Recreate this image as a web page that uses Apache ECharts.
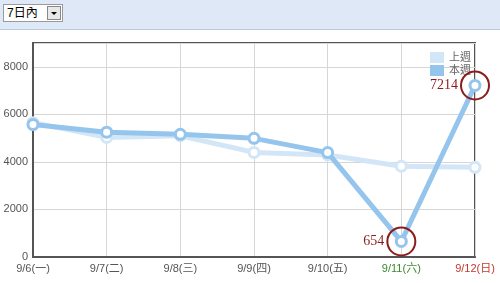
<!DOCTYPE html>
<html><head><meta charset="utf-8">
<script src="https://cdn.jsdelivr.net/npm/echarts@6/dist/echarts.min.js"></script>
<style>
html,body{margin:0;padding:0;background:#fff;}
#wrap{position:relative;width:500px;height:283px;overflow:hidden;}
#band{position:absolute;left:0;top:0;width:500px;height:29px;background:#dfe8f6;border-bottom:1px solid #b9c9dd;}
#sel{position:absolute;left:3px;top:4px;width:58px;height:16px;background:#fff;border:1px solid #9a9a9a;font:12px "Liberation Sans","Noto Sans CJK TC",sans-serif;color:#000;line-height:16px;}
#sel span{position:absolute;left:3px;top:0;}
#btn{position:absolute;right:1px;top:1px;width:12px;height:12px;background:#e8e8e8;border:1px solid #888;}
#btn:after{content:"";position:absolute;left:3px;top:5px;border-left:3px solid transparent;border-right:3px solid transparent;border-top:3px solid #000;}
#chart{position:absolute;left:0;top:0;width:500px;height:283px;}
</style></head>
<body><div id="wrap"><div id="chart"></div><div id="band"><div id="sel"><span>7日內</span><div id="btn"></div></div></div></div>
<script>
const categories = ['9/6(一)','9/7(二)','9/8(三)','9/9(四)','9/10(五)','9/11(六)','9/12(日)'];
const lastWeek = [5650, 5030, 5100, 4400, 4290, 3820, 3770];
const thisWeek = [5570, 5250, 5160, 4990, 4390, 654, 7214];
const yTicks = [0, 2000, 4000, 6000, 8000];
const labelColors = ['#555','#555','#555','#555','#555','#3b8a2e','#c0392b'];

const chart = echarts.init(document.getElementById('chart'));
const font = '"Liberation Sans","Noto Sans CJK TC",sans-serif';
chart.setOption({
  animation:false,
  grid:{left:33,right:25,top:43,bottom:26,show:true,borderColor:'#555',borderWidth:2,backgroundColor:'transparent'},
  legend:{
    orient:'vertical',right:24,top:47,itemWidth:14,itemHeight:11,itemGap:2,
    icon:'rect',textStyle:{color:'#666',fontSize:11,fontFamily:font},
    data:[{name:'上週',itemStyle:{color:'#d3e6f7',borderWidth:0}},{name:'本週',itemStyle:{color:'#95c5ec',borderWidth:0}}]
  },
  xAxis:{type:'category',data:categories,boundaryGap:false,
    axisLine:{lineStyle:{color:'#555',width:2}},axisTick:{show:false},
    splitLine:{show:true,lineStyle:{color:'#d6d6d6',width:1}},
    axisLabel:{fontSize:11,fontFamily:font,margin:6,interval:0,
      color:(v,i)=>labelColors[i]}
  },
  yAxis:{type:'value',min:0,max:9000,interval:2000,
    axisLine:{show:true,lineStyle:{color:'#555',width:2}},axisTick:{show:false},
    splitLine:{lineStyle:{color:'#d6d6d6',width:1}},
    axisLabel:{fontSize:11,fontFamily:font,color:'#555',margin:5,
      formatter:v=>yTicks.includes(v)?String(v):''}
  },
  series:[
    {name:'上週',type:'line',data:lastWeek,symbol:'circle',symbolSize:10,
      lineStyle:{color:'#d3e6f7',width:5},itemStyle:{color:'#fff',borderColor:'#d3e6f7',borderWidth:3},z:2},
    {name:'本週',type:'line',data:thisWeek,symbol:'circle',symbolSize:10,
      lineStyle:{color:'#95c5ec',width:5},itemStyle:{color:'#fff',borderColor:'#95c5ec',borderWidth:3},z:3,
      markPoint:{
        symbol:'circle',symbolSize:28,silent:true,
        itemStyle:{color:'rgba(0,0,0,0)',borderColor:'#8b1c1c',borderWidth:2},
        label:{show:true,position:'left',distance:2,color:'#8b1c1c',fontSize:14,fontFamily:'"Liberation Serif","DejaVu Serif",serif',formatter:p=>String(p.value)},
        data:[
          {coord:[5,thisWeek[5]],value:thisWeek[5]},
          {coord:[6,thisWeek[6]],value:thisWeek[6]}
        ]
      }
    }
  ]
});
</script></body></html>
